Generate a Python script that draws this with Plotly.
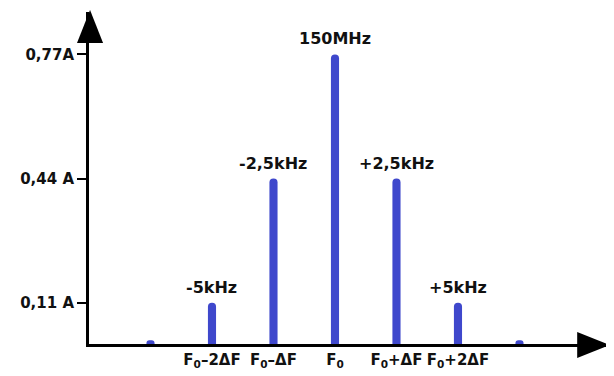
import plotly.graph_objects as go

# Data
offsets_khz = [-7.5, -5, -2.5, 0, 2.5, 5, 7.5]
amplitudes = [0.01, 0.11, 0.44, 0.77, 0.44, 0.11, 0.01]
bar_labels = ["", "-5kHz", "-2,5kHz", "150MHz", "+2,5kHz", "+5kHz", ""]
x_tick_vals = [-5, -2.5, 0, 2.5, 5]
x_tick_text = ["F<sub>0</sub>–2ΔF", "F<sub>0</sub>–ΔF", "F<sub>0</sub>",
               "F<sub>0</sub>+ΔF", "F<sub>0</sub>+2ΔF"]
y_tick_vals = [0.11, 0.44, 0.77]
y_tick_text = ["0,11 A", "0,44 A", "0,77A"]

BLUE = "#3F48CC"
FONT = "DejaVu Sans"

fig = go.Figure()
fig.add_trace(go.Bar(
    x=offsets_khz, y=amplitudes, width=0.33,
    marker=dict(color=BLUE, line=dict(width=0), cornerradius=4),
    hoverinfo="skip",
))

for x, y, t in zip(offsets_khz, amplitudes, bar_labels):
    if t:
        fig.add_annotation(x=x, y=y, text="<b>%s</b>" % t, showarrow=False,
                           yanchor="bottom", yshift=4,
                           font=dict(family=FONT, size=16, color="#111"))

# arrow heads (paper coords)
fig.add_shape(type="path", xref="paper", yref="paper",
              path="M -0.023 0.9066 L 0.002 1.006 L 0.027 0.9066 Z",
              fillcolor="black", line=dict(width=0))
fig.add_shape(type="path", xref="paper", yref="paper",
              path="M 0.937 0.036 L 1.0 -0.003 L 0.937 -0.042 Z",
              fillcolor="black", line=dict(width=0))

# page body has an 8px margin, so the figure is sized/offset to compensate
fig.update_layout(
    width=606, height=368,
    margin=dict(l=81, r=4, t=4, b=32, autoexpand=False),
    plot_bgcolor="white", paper_bgcolor="white",
    showlegend=False,
    xaxis=dict(range=[-10.0, 11.18], showgrid=False, zeroline=False,
               showline=True, linecolor="black", linewidth=3,
               tickmode="array", tickvals=x_tick_vals,
               ticktext=["<b>%s</b>" % t for t in x_tick_text],
               ticks="", tickangle=0,
               tickfont=dict(family=FONT, size=15, color="#111"),
               automargin=False, fixedrange=True),
    yaxis=dict(range=[0, 0.883], showgrid=False, zeroline=False,
               showline=True, linecolor="black", linewidth=3,
               tickmode="array", tickvals=y_tick_vals,
               ticktext=["<b>%s</b>" % t for t in y_tick_text],
               ticks="outside", ticklen=9, tickwidth=2, tickcolor="black",
               tickfont=dict(family=FONT, size=15, color="#111"),
               automargin=False, fixedrange=True),
)

fig.write_html("out.html")
